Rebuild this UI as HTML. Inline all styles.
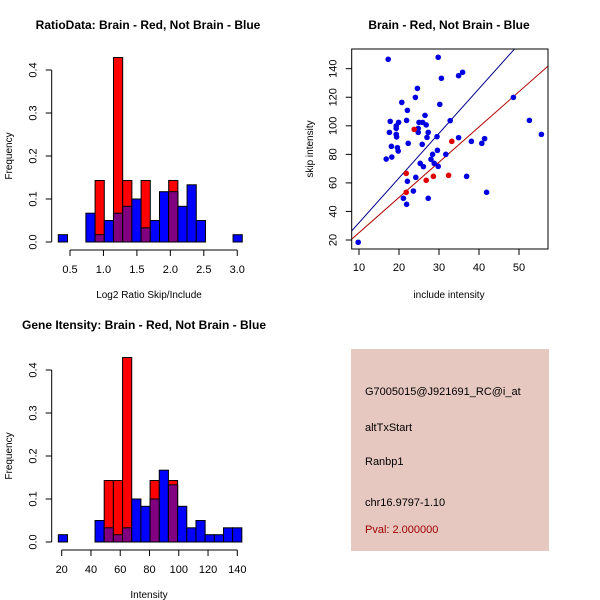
<!DOCTYPE html>
<html><head><meta charset="utf-8"><style>
body{margin:0;background:#fff}
svg{display:block;font-family:"Liberation Sans",sans-serif}
</style></head><body>
<svg id="c" width="600" height="600" viewBox="0 0 600 600">
<rect width="600" height="600" fill="#fff"/>
</svg>
<script>
const ratioBlue=[0.017,0,0,0.067,0.017,0.05,0.067,0.083,0.1,0.033,0.05,0.117,0.117,0.083,0.133,0.05,0,0,0,0.017];
const ratioRed=[0,0,0,0,0.143,0,0.429,0.143,0,0.143,0,0,0.143,0,0,0,0,0,0,0];
const ratioTicks=[0.5,1.0,1.5,2.0,2.5,3.0];
const intBlue=[0.017,0,0,0,0.05,0.033,0.017,0.033,0.1,0.083,0.1,0.167,0.133,0.083,0.033,0.05,0.017,0.017,0.033,0.033];
const intRed=[0,0,0,0,0,0.143,0.143,0.429,0,0,0.143,0,0.143,0,0,0,0,0,0,0];
const intTicks=[20,40,60,80,100,120,140];
const freqTicks=[0.0,0.1,0.2,0.3,0.4];
const blueX=[9.8,17.3,16.8,17.8,17.6,18.1,18.2,19.3,19.3,19.3,19.4,19.6,19.8,19.9,20.7,21.1,21.9,22.1,22.3,22.1,21.9,23.6,24.1,24.6,24.2,24.8,24.8,25,25.3,25.8,25.9,26.1,26.5,26.8,27,27.3,27.3,28,28.4,28.8,29.5,29.6,29.8,29.8,30.2,30.6,31.7,32.8,34.9,35.9,34.9,36.9,38.1,40.7,41.4,41.9,48.6,52.6,55.6];
const blueY=[18.4,146.6,76.7,103.1,95.4,85.6,78.1,99.9,98.2,94,92.2,84.7,82.3,102.4,116.4,49.2,103.8,110.8,87.7,61.1,45,54.3,119.9,126.2,63.9,98.2,95.4,102.4,73.7,87,102.4,71.4,107.3,100.6,91.9,95.4,49.2,76.5,80,73.7,92.4,82.8,71.6,148,115,133.3,80,103.6,135.1,137.5,91.7,64.6,89.1,87.7,91,53.4,119.9,103.8,94];
const redX=[21.8,21.8,23.8,26.8,28.6,32.4,33.2];
const redY=[66.7,53.4,97.5,61.8,64.6,65.3,89.1];
const blueFit=[0.8,3.13];
const redFit=[0.4,2.47];
const scatXTicks=[10,20,30,40,50];
const scatYTicks=[20,40,60,80,100,120,140];

const svg=document.getElementById('c');
const NS='http://www.w3.org/2000/svg';
function mk(tag,attrs,parent){const e=document.createElementNS(NS,tag);for(const k in attrs)e.setAttribute(k,attrs[k]);(parent||svg).appendChild(e);return e;}
function txt(s,x,y,attrs,parent){const e=mk('text',Object.assign({x:x,y:y},attrs),parent);e.textContent=s;return e;}

function hist(o){
  const g=mk('g',{});
  
  
  const sx=v=>o.x0px+(v-o.x0v)*o.pxPerUnit;
  const sy=v=>o.base-v*o.pxPerFreq;
  for(let i=0;i<o.blue.length;i++){
    const a=sx(o.binStart+i*o.binW), b=sx(o.binStart+(i+1)*o.binW);
    const bv=o.blue[i], rv=o.red[i];
    if(bv>0){const r=mk('rect',{x:a,y:sy(bv),width:b-a,height:bv*o.pxPerFreq,fill:'#0000ff',stroke:'#000','stroke-width':1},g);
      }
    if(rv>0){const r=mk('rect',{x:a,y:sy(rv),width:b-a,height:rv*o.pxPerFreq,fill:'#ff0000',stroke:'#000','stroke-width':1},g);
      }
    const m=Math.min(bv,rv);
    if(m>0){const r=mk('rect',{x:a,y:sy(m),width:b-a,height:m*o.pxPerFreq,fill:'#800080',stroke:'#000','stroke-width':1},g);
      }
  }
  const ax=o.yAxisX;
  mk('line',{x1:ax,x2:ax,y1:sy(freqTicks[0]),y2:sy(freqTicks[freqTicks.length-1]),stroke:'#000'},g);
  freqTicks.forEach(t=>{mk('line',{x1:ax-6,x2:ax,y1:sy(t),y2:sy(t),stroke:'#000'},g);
    txt(t.toFixed(1),ax-15,sy(t),{'font-size':11,'text-anchor':'middle',transform:`rotate(-90 ${ax-15} ${sy(t)})`},g);});
  const ay=o.xAxisY;
  mk('line',{x1:sx(o.ticks[0]),x2:sx(o.ticks[o.ticks.length-1]),y1:ay,y2:ay,stroke:'#000'},g);
  o.ticks.forEach(t=>{mk('line',{x1:sx(t),x2:sx(t),y1:ay,y2:ay+6,stroke:'#000'},g);
    txt(o.fmt(t),sx(t),ay+23,{'font-size':11,'text-anchor':'middle'},g);});
  const yt=txt('Frequency',12,(o.base+sy(0.4))/2,{'font-size':10,'text-anchor':'middle',transform:`rotate(-90 12 ${(o.base+sy(0.4))/2})`},g);
  
  const xt=txt(o.xlab,149,o.xlabY,{'font-size':10,'text-anchor':'middle'},g);
  
  const tt=txt(o.title,o.titleX,o.titleY,{'font-size':12,'font-weight':'bold','text-anchor':'middle'},g);
  
}

hist({name:'ratio-histogram',blue:ratioBlue,red:ratioRed,ticks:ratioTicks,fmt:t=>t.toFixed(1),
  x0px:70,x0v:0.5,pxPerUnit:66.9,binStart:0.325,binW:0.1375,base:242,pxPerFreq:430,yAxisX:51.7,xAxisY:250,
  xlab:'Log2 Ratio Skip/Include',xlabY:298,title:'RatioData: Brain - Red, Not Brain - Blue',titleX:148,titleY:29});
hist({name:'intensity-histogram',blue:intBlue,red:intRed,ticks:intTicks,fmt:t=>String(t),
  x0px:61.7,x0v:20,pxPerUnit:1.4633,binStart:17.7,binW:6.27,base:542,pxPerFreq:430,yAxisX:51.7,xAxisY:550,
  xlab:'Intensity',xlabY:598,title:'Gene Itensity: Brain - Red, Not Brain - Blue',titleX:144,titleY:329});

(function(){
  const g=mk('g',{});
  
  
  const L=351.7,R=548,T=49,B=249;
  const sx=v=>359+(v-10)*4;
  const sy=v=>240-(v-20)*1.4275;
  const cp=mk('clipPath',{id:'sc'},g);mk('rect',{x:L,y:T,width:R-L,height:B-T},cp);
  const xmin=(L-359)/4+10, xmax=(R-359)/4+10;
  [[blueFit,'#00008b'],[redFit,'#b00000']].forEach(([f,c],i)=>{
    const l=mk('line',{x1:sx(xmin),y1:sy(f[0]+f[1]*xmin),x2:sx(xmax),y2:sy(f[0]+f[1]*xmax),stroke:c,'stroke-width':1,'clip-path':'url(#sc)'},g);
    
  });
  blueX.forEach((x,i)=>{const p=mk('circle',{cx:sx(x),cy:sy(blueY[i]),r:2.8,fill:'#0000e0'},g);
    });
  redX.forEach((x,i)=>{const p=mk('circle',{cx:sx(x),cy:sy(redY[i]),r:2.8,fill:'#e00000'},g);
    });
  mk('rect',{x:L,y:T,width:R-L,height:B-T,fill:'none',stroke:'#000'},g);
  scatXTicks.forEach(t=>{mk('line',{x1:sx(t),x2:sx(t),y1:B,y2:B+6,stroke:'#000'},g);
    txt(String(t),sx(t),B+22,{'font-size':11,'text-anchor':'middle'},g);});
  scatYTicks.forEach(t=>{mk('line',{x1:L-6,x2:L,y1:sy(t),y2:sy(t),stroke:'#000'},g);
    txt(String(t),L-15,sy(t),{'font-size':11,'text-anchor':'middle',transform:`rotate(-90 ${L-15} ${sy(t)})`},g);});
  const xt=txt('include intensity',449,298,{'font-size':10,'text-anchor':'middle'},g);
  
  const yt=txt('skip intensity',313,149,{'font-size':10,'text-anchor':'middle',transform:'rotate(-90 313 149)'},g);
  
  const tt=txt('Brain - Red, Not Brain - Blue',449,29,{'font-size':12,'font-weight':'bold','text-anchor':'middle'},g);
  
})();
</script>
<div style="position:absolute;left:351px;top:349px;width:198px;height:202px;background:#e6c8c0;font-family:'Liberation Sans',sans-serif;font-size:11px;">
<div style="position:absolute;left:14px;top:37px">G7005015@J921691_RC@i_at</div>
<div style="position:absolute;left:14px;top:73px">altTxStart</div>
<div style="position:absolute;left:14px;top:107px">Ranbp1</div>
<div style="position:absolute;left:14px;top:148px">chr16.9797-1.10</div>
<div style="position:absolute;left:14px;top:175px;color:#a00000">Pval: 2.000000</div>
</div>
</body></html>
